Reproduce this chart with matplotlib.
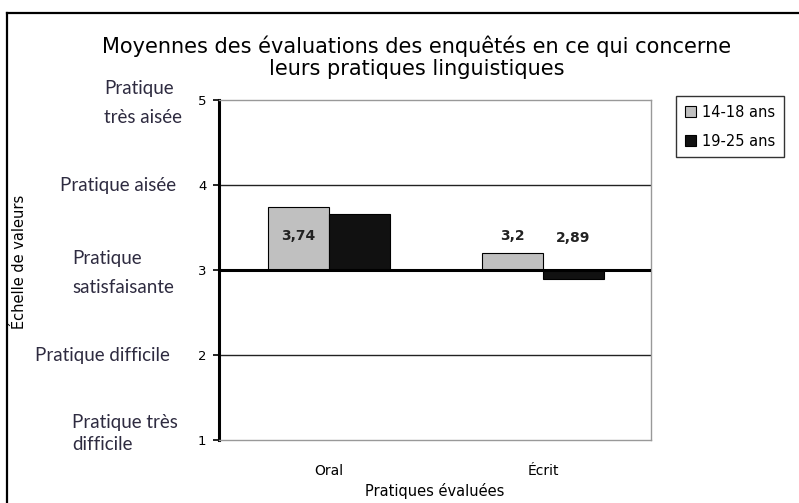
import matplotlib
matplotlib.use("Agg")
import matplotlib.pyplot as plt
from matplotlib.patches import Patch
from matplotlib.lines import Line2D
import matplotlib.transforms as mtransforms
import numpy as np

# ---- data ----
categories = ["Oral", "Écrit"]
series_names = ["14-18 ans", "19-25 ans"]
values_1418 = [3.74, 3.2]
values_1925 = [3.66, 2.89]
labels_1418 = ["3,74", "3,2"]
labels_1925 = ["3,66", "2,89"]
ytick_values = [1, 2, 3, 4, 5]
level_labels = ["Pratique très\ndifficile", "Pratique difficile", "Pratique\nsatisfaisante",
                "Pratique aisée", "Pratique\ntrès aisée"]
baseline = 3
title = "Moyennes des évaluations des enquêtés en ce qui concerne\nleurs pratiques linguistiques"
xlabel = "Pratiques évaluées"
ylabel = "Échelle de valeurs"

W, H = 799, 503
fig = plt.figure(figsize=(W / 100, H / 100), dpi=100)
fig.patch.set_facecolor("white")

# axes placement (pixels -> fractions)
L, R, T, B = 219, 651, 100, 440
ax = fig.add_axes([L / W, 1 - B / H, (R - L) / W, (B - T) / H])

x = np.arange(len(categories))
bw = 0.285
grey = "#c0c0c0"
dark = "#111111"
ax.bar(x - bw / 2, np.array(values_1418) - baseline, width=bw, bottom=baseline,
       color=grey, edgecolor="black", linewidth=0.8, zorder=3)
ax.bar(x + bw / 2, np.array(values_1925) - baseline, width=bw, bottom=baseline,
       color=dark, edgecolor="black", linewidth=0.8, zorder=3)

ax.set_xlim(-0.515, 1.505)
ax.set_ylim(1, 5)

# gridlines
for v in ytick_values:
    if v == baseline:
        ax.axhline(v, color="black", linewidth=2.2, zorder=4)
    elif v in (2, 4):
        ax.axhline(v, color="#222222", linewidth=1.0, zorder=1)

# value labels
lab_font = dict(family="DejaVu Sans", fontsize=10, fontweight="bold")
for i in range(len(categories)):
    ax.text(x[i] - bw / 2, 3.40, labels_1418[i], ha="center", va="center",
            color="#222222", zorder=5, **lab_font)
    ax.text(x[i] + bw / 2, 3.38, labels_1925[i], ha="center", va="center",
            color="#111111" if values_1925[i] > baseline else "#222222", zorder=5, **lab_font)

# spines
for s in ("top", "right", "bottom"):
    ax.spines[s].set_color("#999999")
    ax.spines[s].set_linewidth(1.0)
ax.spines["left"].set_color("black")
ax.spines["left"].set_linewidth(2.2)

ax.set_yticks(ytick_values)
ax.set_yticklabels([str(v) for v in ytick_values], family="DejaVu Sans", fontsize=9.5)
ax.tick_params(axis="y", length=4, width=1.2, color="black", pad=5)
ax.set_xticks(x)
ax.set_xticklabels(categories, family="DejaVu Sans", fontsize=10)
ax.tick_params(axis="x", length=0, pad=17)
ax.set_xlabel(xlabel, family="DejaVu Sans", fontsize=10.5, labelpad=4)

# level labels next to y ticks
trans = mtransforms.blended_transform_factory(fig.transFigure, ax.transData)
level_x = [72, 35, 72, 60, 104]
level_ls = [1.4, 1.25, 1.9, 1.25, 1.9]
level_dy = [0.075, 0.0, -0.035, 0.0, -0.035]
for v, txt, lx, ls, dy in zip(ytick_values, level_labels, level_x, level_ls, level_dy):
    ax.text(lx / W, v + dy, txt, transform=trans, ha="left", va="center",
            family="Lato", fontsize=13.5, color="#2e2b40", linespacing=ls,
            clip_on=False)

# y label
fig.text(20 / W, 1 - 262 / H, ylabel, rotation=90, ha="center", va="center",
         family="DejaVu Sans", fontsize=10.5)

# title
fig.text(417 / W, 1 - 57 / H, title, ha="center", va="center",
         family="DejaVu Sans", fontsize=15, linespacing=1.1)

# legend
handles = [Patch(facecolor=grey, edgecolor="black", linewidth=0.8),
           Patch(facecolor=dark, edgecolor="black", linewidth=0.8)]
leg = fig.legend(handles, series_names, loc="upper left",
                 bbox_to_anchor=(676 / W, 1 - 96 / H),
                 prop=dict(family="DejaVu Sans", size=10.5),
                 frameon=True, fancybox=False, shadow=False,
                 handlelength=0.75, handleheight=0.75, handletextpad=0.45,
                 borderpad=0.6, labelspacing=0.95, borderaxespad=0)
leg.get_frame().set_edgecolor("black")
leg.get_frame().set_linewidth(1.0)

# outer frame (top and left edges)
fig.add_artist(Line2D([7 / W, 1.0], [1 - 13 / H, 1 - 13 / H], transform=fig.transFigure,
                      color="black", linewidth=1.6))
fig.add_artist(Line2D([7 / W, 7 / W], [0, 1 - 13 / H], transform=fig.transFigure,
                      color="black", linewidth=1.6))

fig.savefig("out.png", dpi=100)
